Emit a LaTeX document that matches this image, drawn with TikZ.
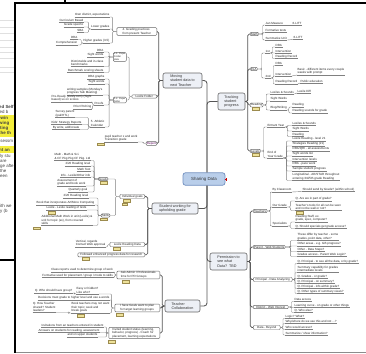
\documentclass[tikz,border=0pt]{standalone}
\usepackage{fontspec}
\setmainfont{Liberation Sans}
\newcommand\leaffont{\fontsize{3}{3.7}\selectfont}
\newcommand\boxfont{\fontsize{3.7}{4.4}\selectfont}
\newcommand\subfont{\fontsize{3}{3.6}\selectfont}
\newcommand\tinyfont{\fontsize{2.4}{2.9}\selectfont}
\newcommand\docfont{\fontsize{4.4}{5}\selectfont}
\definecolor{linegray}{HTML}{808080}
\definecolor{darkline}{HTML}{555555}
\definecolor{boxfill}{HTML}{EDF0F6}
\definecolor{boxline}{HTML}{666666}
\definecolor{sharefill}{HTML}{B9CEEA}
\definecolor{shareline}{HTML}{7290C0}
\definecolor{tagfill}{HTML}{EEE29A}
\definecolor{tagline}{HTML}{9C8B4E}
\definecolor{hl}{HTML}{F4EE3C}
\tikzset{
  ul/.style={draw=linegray,line width=0.4pt},
  leafL/.style={font=\leaffont,text=black!85,inner xsep=0.4pt,inner ysep=0.45pt,anchor=south east,align=left,
    append after command={(\tikzlastnode.south west) edge[ul] (\tikzlastnode.south east)}},
  leafR/.style={font=\leaffont,text=black!85,inner xsep=0.4pt,inner ysep=0.45pt,anchor=south west,align=left,
    append after command={(\tikzlastnode.south west) edge[ul] (\tikzlastnode.south east)}},
  con/.style={draw=linegray,line width=0.4pt,rounded corners=1pt},
  midcon/.style={draw=darkline,line width=0.65pt,rounded corners=1.5pt},
  maincon/.style={draw=darkline,line width=0.85pt,rounded corners=3pt},
  sharebox/.style={draw=shareline,fill=sharefill,line width=0.7pt,rounded corners=2.5pt,
    font=\fontsize{4.4}{5}\selectfont,text=black!80,minimum width=42pt,minimum height=12.5pt,inner sep=1pt},
  mainbox/.style={draw=boxline,fill=boxfill,line width=0.6pt,rounded corners=2pt,font=\boxfont,text=black!80,
    align=left,inner xsep=2pt,inner ysep=1pt},
  subbox/.style={draw=boxline,fill=white,line width=0.45pt,rounded corners=1pt,font=\subfont,text=black!85,
    align=left,inner xsep=0.8pt,inner ysep=0.6pt},
  tag/.style={draw=tagline,fill=tagfill,line width=0.3pt,minimum width=7pt,minimum height=2.6pt,inner sep=0pt},
  docline/.style={draw=black!12,line width=0.5pt},
  doctext/.style={font=\docfont,anchor=base west,inner sep=0pt,text=black!75},
}
\begin{document}
\begin{tikzpicture}[x=1pt,y=-1pt]
\useasboundingbox (0,0) rectangle (366,353);
\fill[white] (0,0) rectangle (366,353);

% ---------- document strip at the left ----------
\begin{scope}
\clip (0,0) rectangle (14,353);
\foreach \yy in {20,27,33,40,47,52,58,67,72} \draw[docline] (0,\yy) -- (14,\yy);
\fill[hl] (0,115) rectangle (14,137);
\fill[hl] (0,146) rectangle (14,153);
\node[doctext,font=\docfont\bfseries] (d1) at (-1,108) {ed Self};
\node[doctext] (d2) at (-3,113) {hed b};
\node[doctext,font=\docfont\bfseries] (d3) at (-2,119) {ewin};
\node[doctext,font=\docfont\bfseries] (d4) at (-1,124) {wing};
\node[doctext,font=\docfont\bfseries] (d5) at (0,129) {ting};
\node[doctext,font=\docfont\bfseries] (d6) at (-1,134.5) {the th};
\node[doctext] (d7) at (-2,142) {ssessm};
\node[doctext,font=\docfont\bfseries] (d8) at (-1,151) {nt an};
\node[doctext] (d9) at (0,157) {ly stu};
\node[doctext] (d10) at (0,162) {are};
\node[doctext] (d11) at (0,167) {ge afte};
\node[doctext] (d12) at (0,172) {the};
\node[doctext] (d13) at (0,177) {een};
\node[doctext] (d14) at (0,207) {ith we};
\node[doctext] (d15) at (0,212) {y (b};
\end{scope}

% ---------- window frame ----------
\fill[black] (14,2.2) rectangle (366,4.4);
\fill[black] (64.3,0) rectangle (65.8,3);
\fill[black] (14,2.2) rectangle (16,353);
\fill[black] (0,259.3) rectangle (15,260.8);
\fill[black!45] (16,351.6) rectangle (366,353);

% ---------- central and main boxes ----------
\node[sharebox] (share) at (204,179) {Sharing Data};
\draw[red!80!black,line width=0.4pt] (225,179.5) -- (227.4,179.5) (226.2,178.3) -- (226.2,180.7);
\node[mainbox,minimum width=39pt,minimum height=15pt] (moving) at (182.5,80.5) {Moving\\student data to\\next Teacher};
\node[mainbox,minimum width=27pt,minimum height=17pt] (track) at (231.5,101.5) {Tracking\\student\\progress};
\node[mainbox,minimum width=46pt,minimum height=11pt] (stud) at (175,208.5) {Student working for\\upholding grade};
\node[mainbox,minimum width=37pt,minimum height=17pt] (perm) at (228.5,261.5) {Permission to\\see what\\Data?\ \ TBD};
\node[mainbox,minimum width=35pt,minimum height=12pt] (collab) at (182.5,306) {Teacher\\Collaboration};

\draw[maincon] ([xshift=3pt]share.north) |- (moving.east);
\draw[maincon] ([xshift=3pt]share.north) |- (track.west);
\draw[maincon] ([xshift=3pt]share.south) |- (stud.east);
\draw[maincon] ([xshift=3pt]share.south) |- (perm.west);
\draw[maincon] ([xshift=3pt]share.south) |- (collab.east);

% ---------- Moving student data ----------
\node[subbox,anchor=east,minimum width=40pt] (g4) at (157,31.5) {4. Grading practices\\from present Teacher};
\node[subbox,anchor=east,minimum width=25pt] (lexf) at (157,96.5) {Lexile Folder};
\node[subbox,anchor=east,text=violet!70!black] (report) at (157,143.5) {Report};
\node[subbox,anchor=east,font=\tinyfont] (p11) at (126.5,57) {1.1. Paper\\Folder\\data};
\node[subbox,anchor=east,font=\tinyfont] (p12) at (126.5,100) {1.2. Paper\\folder};
\draw[midcon] (moving.west) -- ++(-4,0) |- (g4.east);
\draw[midcon] (moving.west) -- ++(-4,0) |- (lexf.east);
\draw[midcon] (moving.west) -- ++(-4,0) |- (report.east);
\draw[con] (lexf.west) -- ++(-2.5,0) |- (p11.east);
\draw[con] (lexf.west) -- ++(-2.5,0) |- (p12.east);

\node[leafL] (own) at (110,17) {Own district, expectations};
\node[leafL] (lower) at (110,29) {Lower grades};
\node[leafL] (curr) at (84,22) {Curriculum Based};
\node[leafL] (gspec) at (84,27) {Grade specific};
\node[leafL] (sba) at (84,32.5) {SBA};
\node[leafL] (higher) at (110,43) {Higher grades (3-5)};
\node[leafL] (dra0) at (78,39.5) {DRA};
\node[leafL] (compr) at (78,45) {Comprehension};
\draw[con] (g4.west) -- ++(-4,0) |- (own.south east);
\draw[con] (g4.west) -- ++(-4,0) |- (lower.south east);
\draw[con] (g4.west) -- ++(-4,0) |- (higher.south east);
\draw[con] (lower.south west) -- ++(-2,0) |- (curr.south east);
\draw[con] (lower.south west) -- ++(-2,0) |- (gspec.south east);
\draw[con] (lower.south west) -- ++(-2,0) |- (sba.south east);
\draw[con] (higher.south west) -- ++(-1.5,0) |- (dra0.south east);
\draw[con] (higher.south west) -- ++(-1.5,0) |- (compr.south east);

\node[leafL] (dra1) at (104,52) {DRA};
\node[leafL] (sw1) at (104,57) {Sight words};
\node[leafL] (dist1) at (104,66.5) {Districtwide and in-class\\benchmarks};
\node[leafL] (bench) at (104,72.5) {Benchmark scoring sheets};
\draw[con] (p11.west) -- ++(-4,0) |- (dra1.south east);
\draw[con] (p11.west) -- ++(-4,0) |- (sw1.south east);
\draw[con] (p11.west) -- ++(-4,0) |- (dist1.south east);
\draw[con] (p11.west) -- ++(-4,0) |- (bench.south east);

\node[leafL] (drag) at (105,79) {DRA graphs};
\node[leafL] (sw2) at (105,84) {Sight words};
\node[leafL] (wsamp) at (103,95) {writing samples (Monday's\\progress Talk Meeting)};
\node[leafL] (proofs) at (104,105) {Proofs};
\node[leafL] (preready) at (92,102) {Pre-Ready (Lively.com) (Sight\\based) so on scores};
\node[leafL] (prior) at (92,109) {Prior Pitching};
\node[leafL] (athl) at (105,127) {5. Athletic\\Calendar};
\node[leafL] (survey) at (75,117.5) {Survey parent\\(ipal/HTL)};
\node[leafL] (kids) at (82,124.5) {Kids' Strategy Reports};
\node[leafL] (bywrite) at (80,129.5) {By write, add/create};
\draw[con] (p12.west) -- ++(-4,0) |- (drag.south east);
\draw[con] (p12.west) -- ++(-4,0) |- (sw2.south east);
\draw[con] (p12.west) -- ++(-4,0) |- (wsamp.south east);
\draw[con] (p12.west) -- ++(-4,0) |- (proofs.south east);
\draw[con] (p12.west) -- ++(-4,0) |- (athl.south east);
\draw[con] (proofs.south west) -- ++(-1.5,0) |- (preready.south east);
\draw[con] (proofs.south west) -- ++(-1.5,0) |- (prior.south east);
\draw[con] (athl.south west) -- ++(-2,0) |- (survey.south east);
\draw[con] (athl.south west) -- ++(-2,0) |- (kids.south east);
\draw[con] (athl.south west) -- ++(-2,0) |- (bywrite.south east);

\node[leafL] (pupil) at (138,142) {pupil teacher x and work\\Transition grade};
\node[tag] (tg1) at (101,144.2) {};
\draw[con] (report.west) -- ++(-2.5,0) |- (pupil.south east);

% ---------- Student working for upholding grade ----------
\node[subbox,anchor=east,minimum width=25pt] (indiv) at (145,196.5) {Individual goals};
\node[tag] (tg2) at (127,200.6) {};
\node[tag,minimum width=5pt] (tg3) at (125,204.2) {};
\node[subbox,anchor=east] (bA) at (108,179) {Goals};
\node[tag] (tg4) at (103.5,182.6) {};
\node[subbox,anchor=east] (bB) at (110,215.5) {Skills};
\node[tag] (tg5) at (104,219.1) {};
\node[subbox,anchor=east,minimum width=35pt] (lexrd) at (145,244.5) {Lexile Reading Data};
\node[tag] (tg6) at (117,248.4) {};
\node[subbox,anchor=east,minimum width=67pt] (followed) at (145,254.8) {Followed enhanced progress data for research};
\node[tag] (tg7) at (86,258.7) {};
\draw[midcon] (stud.west) -- ++(-4,0) |- (indiv.east);
\draw[midcon] (stud.west) -- ++(-4,0) |- (lexrd.east);
\draw[midcon] (stud.west) -- ++(-4,0) |- (followed.east);
\draw[con] (indiv.west) -- ++(-4,0) |- (bA.east);
\draw[con] (indiv.west) -- ++(-4,0) |- (bB.east);

\node[leafL] (mathsci) at (91,160.5) {Math - Math \& Sci.\\\& CF Pkg Pkg CF Pkg. Ltd};
\node[leafL] (rl1) at (91,166) {2/20 Reading level};
\node[leafL] (mtest) at (91,171) {Math Test};
\node[leafL] (info) at (91,177) {Info - Lexile/Other info};
\node[leafL] (assess) at (86,186) {Assessment of\\grade and book work};
\node[leafL] (quart) at (88,192) {Quarterly goal};
\draw[con] (bA.west) -- ++(-4,0) |- (mathsci.south east);
\draw[con] (bA.west) -- ++(-4,0) |- (rl1.south east);
\draw[con] (bA.west) -- ++(-4,0) |- (mtest.south east);
\draw[con] (bA.west) -- ++(-4,0) |- (info.south east);
\draw[con] (bA.west) -- ++(-4,0) |- (assess.south east);
\draw[con] (bA.west) -- ++(-4,0) |- (quart.south east);

\node[leafL] (rl2) at (89,198) {2/20 Reading level};
\node[leafL] (bookinc) at (95,205) {Book that incorporates Art/More Computing};
\node[leafL] (lexread) at (87,210) {Lexile - Lexile reading of texts};
\node[tag] (tg8) at (52,212.4) {};
\node[leafL] (addmath) at (93,225.5) {Additional Math Work in unit (Lexile) \&\\unit for topic (ex), from covered\\skills};
\node[tag] (tg9) at (37,228) {};
\draw[con] (bB.west) -- ++(-3,0) |- (rl2.south east);
\draw[con] (bB.west) -- ++(-3,0) |- (bookinc.south east);
\draw[con] (bB.west) -- ++(-3,0) |- (lexread.south east);
\draw[con] (bB.west) -- ++(-3,0) |- (addmath.south east);

\node[leafL] (contact) at (106,247) {Vertical, regards\\Contact Web approval};
\draw[con] (lexrd.west) -- ++(-2,0) |- (contact.south east);

% ---------- Teacher Collaboration ----------
\node[subbox,anchor=east,minimum width=43pt] (tc1) at (160,275) {Ask Admin / Professionals\\time for PD Groups};
\node[tag] (tg10) at (126,281.4) {};
\node[subbox,anchor=east,minimum width=45pt] (tc2) at (160,308) {I have Goals want to plan\\for target learning groups};
\node[tag] (tg11) at (120,314.4) {};
\node[subbox,anchor=east,minimum width=51pt] (tc3) at (160,333) {Invited student status (learning,\\behavior, progress) - Coach for\\placement, learning expectations};
\node[tag] (tg12) at (112,341.4) {};
\draw[midcon] (collab.west) -- ++(-2.5,0) |- (tc1.east);
\draw[midcon] (collab.west) -- ++(-2.5,0) |- (tc2.east);
\draw[midcon] (collab.west) -- ++(-2.5,0) |- (tc3.east);

\node[leafL] (classrep) at (113.5,272) {Class reports used to determine group of work};
\node[leafL] (formused) at (113.5,277.5) {Formative used for placement / group / mode to skills};
\draw[con] (tc1.west) -- ++(-1.8,0) |- (classrep.south east);
\draw[con] (tc1.west) -- ++(-1.8,0) |- (formused.south east);

\node[leafL] (easy) at (99,294) {Easy or hidden?\\Like who?};
\node[leafL] (qwho) at (73,293) {Q. Who should have group?};
\node[leafL] (decis) at (110,300) {Decisions must grade to higher level and use a words};
\node[leafL] (bookt) at (110,313) {Book teachers may not want\\their topic; seek and\\break goals};
\node[tag] (tg13) at (81,315.4) {};
\node[leafL] (qhow) at (56,312.5) {Q. How Teacher\\shared? Student\\leaders?};
\draw[con] (tc2.west) -- ++(-3,0) |- (easy.south east);
\draw[con] (tc2.west) -- ++(-3,0) |- (decis.south east);
\draw[con] (tc2.west) -- ++(-3,0) |- (bookt.south east);
\draw[con] (easy.south west) -- ++(-1.5,0) |- (qwho.south east);
\draw[con] (bookt.south west) -- ++(-2,0) |- (qhow.south east);

\node[leafL] (invit) at (104,327) {Invitations from an teachers entered in student};
\node[leafL] (answ) at (100,332.5) {Answers on students for reading, assessment};
\node[leafL] (upper) at (98,337) {and on upper students};
\draw[con] (tc3.west) -- ++(-2,0) |- (invit.south east);
\draw[con] (tc3.west) -- ++(-2,0) |- (answ.south east);
\draw[con] (tc3.west) -- ++(-2,0) |- (upper.south east);

% ---------- Tracking student progress ----------
\node[subbox,anchor=west] (math) at (250,34) {Math};
\node[subbox,anchor=west] (ela) at (250,69) {ELA};
\node[subbox,anchor=west] (reading) at (250,105) {Reading};
\node[tag] (tg14) at (256,108.9) {};
\node[subbox,anchor=west] (levels) at (250,151) {Levels};
\node[tag] (tg15) at (255.5,154.9) {};
\draw[midcon] (track.east) -- ++(2.5,0) |- (math.west);
\draw[midcon] (track.east) -- ++(2.5,0) |- (ela.west);
\draw[midcon] (track.east) -- ++(2.5,0) |- (reading.west);
\draw[midcon] (track.east) -- ++(2.5,0) |- (levels.west);

\node[leafR] (jan) at (265,25) {Jan Measure};
\node[leafR] (litt1) at (292,25) {6-LITT};
\node[leafR] (formt) at (265,32.5) {Formative tests};
\node[leafR] (summu) at (265,40) {Summative Unit};
\node[leafR] (litt2) at (293,39.5) {6-LITT};
\draw[con] (math.east) -- ++(4,0) |- (jan.south west);
\draw[con] (math.east) -- ++(4,0) |- (formt.south west);
\draw[con] (math.east) -- ++(4,0) |- (summu.south west);
\draw[con] (jan.south east) -- (litt1.south west);
\draw[con] (summu.south east) -- (litt2.south west);

\node[leafR] (first) at (265,53) {1st};
\node[leafR] (second) at (265,78) {2nd};
\node[leafR] (dra2) at (275,47) {DRA};
\node[leafR] (int1) at (275,53) {Intervention};
\node[leafR] (rr1) at (275,58.5) {Reading Record};
\node[leafR] (dra3) at (275,65.5) {DRA};
\node[leafR] (int2) at (275,76) {Intervention};
\node[leafR] (basic) at (297,75) {Basic - different items every couple\\weeks with prompt};
\node[leafR] (rr2) at (275,84) {Reading Record};
\node[leafR] (pubed) at (300,83) {Public education};
\draw[con] (ela.east) -- ++(4,0) |- (first.south west);
\draw[con] (ela.east) -- ++(4,0) |- (second.south west);
\draw[con] (first.south east) -- ++(2,0) |- (dra2.south west);
\draw[con] (first.south east) -- ++(2,0) |- (int1.south west);
\draw[con] (first.south east) -- ++(2,0) |- (rr1.south west);
\draw[con] (second.south east) -- ++(2,0) |- (dra3.south west);
\draw[con] (second.south east) -- ++(2,0) |- (int2.south west);
\draw[con] (second.south east) -- ++(2,0) |- (rr2.south west);
\draw[con] (int2.south east) -- (basic.south west);
\draw[con] (rr2.south east) -- (pubed.south west);

\node[leafR] (lexs1) at (270,94) {Lexiles \& Sounds};
\node[leafR] (lexdiff) at (297,93) {Lexile Diff};
\node[leafR] (sightw) at (270,101) {Sight Words};
\node[leafR] (blog) at (270,110) {Blog/Writing};
\node[leafR] (readg) at (292,107) {Reading};
\node[leafR] (rsound) at (292,113) {Reading sounds for grade};
\draw[con] (reading.east) -- ++(3,0) |- (lexs1.south west);
\draw[con] (reading.east) -- ++(3,0) |- (sightw.south west);
\draw[con] (reading.east) -- ++(3,0) |- (blog.south west);
\draw[con] (lexs1.south east) -- (lexdiff.south west);
\draw[con] (blog.south east) -- ++(1.5,0) |- (readg.south west);
\draw[con] (blog.south east) -- ++(1.5,0) |- (rsound.south west);

\node[leafR] (entrant) at (267,127) {Entrant Year};
\node[leafR] (endyear) at (267,158) {End of\\Year Grade};
\node[leafR] (lexs2) at (292,125.5) {Lexiles \& Sounds};
\node[leafR] (sightw2) at (292,131) {Sight Words};
\node[leafR] (readg2) at (292,136.5) {Reading};
\node[leafR] (e1) at (292,141) {Lexile Reading - level 21};
\node[leafR] (e2) at (292,146) {Strategies Reading (21)};
\node[leafR] (e3) at (292,151) {DRA/QRI - all assessments};
\node[leafR] (e4) at (292,156) {Sight words list};
\node[leafR] (e5) at (292,161) {Intervention levels};
\node[leafR] (e6) at (292,166) {DRA - pace work};
\node[leafR] (e7) at (292,171) {Sample student progress};
\node[leafR] (e8) at (292,180.5) {Longitudinal - AR/STAR throughout\\entering 3rd/5th grade Reading};
\draw[con] (levels.east) -- ++(3,0) |- (entrant.south west);
\draw[con] (levels.east) -- ++(3,0) |- (endyear.south west);
\foreach \n in {lexs2,sightw2,readg2}
  \draw[con] (entrant.south east) -- ++(2.5,0) |- (\n.south west);
\foreach \n in {e1,e2,e3,e4,e5,e6,e7,e8}
  \draw[con] (endyear.south east) -- ++(3,0) |- (\n.south west);

% ---------- Permission to see what Data ----------
\node[subbox,anchor=west] (teach) at (253,211) {Teachers};
\node[subbox,anchor=west,minimum width=30pt] (pweb) at (253,247) {Parent - Web Students};
\node[subbox,anchor=west,minimum width=39pt] (princ) at (253,279.5) {Principal - Data Analyzing};
\node[subbox,anchor=west,minimum width=35pt] (distr) at (253,307) {District - Web Interest};
\node[subbox,anchor=west,minimum width=27pt] (beyond) at (253,327.5) {Data - Beyond};
\draw[midcon] (perm.east) -- ++(3,0) |- (teach.west);
\draw[midcon] (perm.east) -- ++(3,0) |- (pweb.west);
\draw[midcon] (perm.east) -- ++(3,0) |- (princ.west);
\draw[midcon] (perm.east) -- ++(3,0) |- (distr.west);
\draw[midcon] (perm.east) -- ++(3,0) |- (beyond.west);

\node[leafR] (bycl) at (272,192) {By Classroom};
\node[leafR] (ssend) at (302,191.5) {Should send by Grade? (within school)};
\node[leafR] (ourg) at (272,207) {Our Grade};
\node[leafR] (qare) at (295,201) {Q. Are we in part of grade?};
\node[leafR] (ttool) at (295,210.5) {Teacher's tools for all can be seen\\and not be wall or not?};
\node[tag] (tg16) at (300,212.8) {};
\node[leafR] (spec) at (272,226) {Specialists};
\node[leafR] (rstaff) at (295,222) {Reading Staff, ex.\\grade, spec, computer?};
\node[leafR] (qspec) at (295,228.5) {Q. Should specials get grade access?};
\draw[con] (teach.east) -- ++(3,0) |- (bycl.south west);
\draw[con] (teach.east) -- ++(3,0) |- (ourg.south west);
\draw[con] (teach.east) -- ++(3,0) |- (spec.south west);
\draw[con] (bycl.south east) -- (ssend.south west);
\draw[con] (ourg.south east) -- ++(3,0) |- (qare.south west);
\draw[con] (ourg.south east) -- ++(3,0) |- (ttool.south west);
\draw[con] (spec.south east) -- ++(3,0) |- (rstaff.south west);
\draw[con] (spec.south east) -- ++(3,0) |- (qspec.south west);

\node[leafR] (purp) at (297,240.5) {These differ by teacher - some\\grades, point data, other?};
\node[leafR] (oarea) at (297,246) {Other areas - e.g. GB progress?};
\node[leafR] (odata) at (297,251.5) {Other - Data Steps?};
\node[leafR] (gacc) at (297,256.5) {Grades access - Parent Web Login?};
\foreach \n in {purp,oarea,odata,gacc}
  \draw[con] (pweb.east) -- ++(5,0) |- (\n.south west);

\node[leafR] (qp1) at (297,263.5) {Q. Principal - to see all the data, or by grade?};
\node[leafR] (sumcap) at (297,272.5) {Summary capability for grades\\intermediate levels};
\node[leafR] (qgr) at (297,278.5) {Q. Grades - or grade?};
\node[leafR] (qps) at (297,283.5) {Q. Principal - on summary?};
\node[leafR] (qpi) at (297,288.5) {Q. Principal - info within grade?};
\node[leafR] (qot) at (297,293.5) {Q. Other types of summary views?};
\foreach \n in {qp1,sumcap,qgr,qps,qpi,qot}
  \draw[con] (princ.east) -- ++(2.5,0) |- (\n.south west);

\node[leafR] (dacc) at (294,301.5) {Data access};
\node[leafR] (lcurve) at (294,307.5) {Learning curve - on grade or other things};
\node[leafR] (qwho2) at (294,312.5) {Q. Who else?};
\foreach \n in {dacc,lcurve,qwho2}
  \draw[con] (distr.east) -- ++(3,0) |- (\n.south west);

\node[leafR] (logic) at (285,318.5) {Logic? What?};
\node[leafR] (why) at (285,323.5) {Why/where do we use this and not ...?};
\node[leafR] (whoacc) at (285,329.5) {Who would access?};
\node[leafR] (summz) at (285,335) {Summarize / show information?};
\foreach \n in {logic,why,whoacc,summz}
  \draw[con] (beyond.east) -- ++(2.5,0) |- (\n.south west);
\end{tikzpicture}
\end{document}
